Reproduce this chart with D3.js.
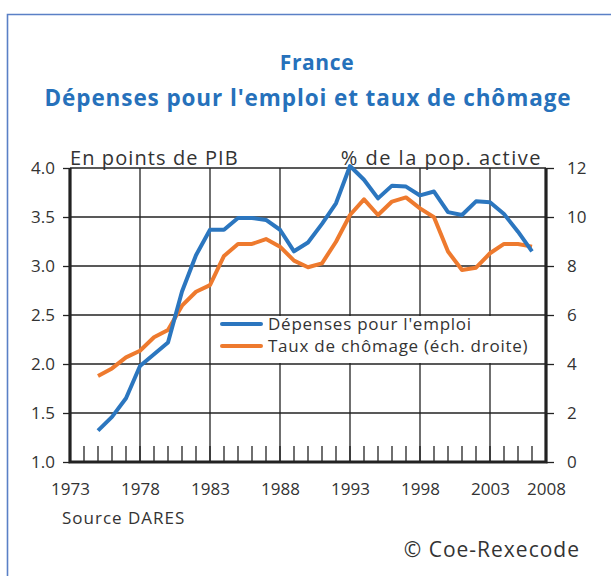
<!DOCTYPE html>
<html>
<head>
<meta charset="utf-8">
<script src="https://cdn.jsdelivr.net/npm/d3@7"></script>
<style>
  body { margin: 0; background: #fff; }
  svg { display: block; font-family: "Open Sans", Lato, sans-serif; }
</style>
</head>
<body>
<div id="chart"></div>
<script>
// data
const years = [1975, 1976, 1977, 1978, 1979, 1980, 1981, 1982, 1983, 1984, 1985, 1986, 1987, 1988, 1989, 1990,
    1991, 1992, 1993, 1994, 1995, 1996, 1997, 1998, 1999, 2000, 2001, 2002, 2003, 2004, 2005, 2006];
const depenses = [1.32, 1.46, 1.65, 1.98, 2.10, 2.22, 2.74, 3.11, 3.37, 3.37, 3.49, 3.49, 3.47, 3.37, 3.15, 3.24,
    3.43, 3.64, 4.02, 3.88, 3.69, 3.82, 3.81, 3.72, 3.76, 3.55, 3.52, 3.66, 3.65, 3.53, 3.35, 3.15];
const chomage = [3.51, 3.82, 4.27, 4.54, 5.09, 5.39, 6.38, 6.95, 7.22, 8.41, 8.90, 8.90, 9.10, 8.79, 8.22, 7.95,
    8.11, 8.99, 10.08, 10.72, 10.08, 10.63, 10.80, 10.35, 9.99, 8.59, 7.84, 7.93, 8.52, 8.90, 8.90, 8.79];
const leftTicks = [1.0, 1.5, 2.0, 2.5, 3.0, 3.5, 4.0];
const rightTicks = [0, 2, 4, 6, 8, 10, 12];
const xTicks = [1973, 1978, 1983, 1988, 1993, 1998, 2003, 2007];
const xTickLabels = ["1973", "1978", "1983", "1988", "1993", "1998", "2003", "2008"];
const seriesNames = ["Dépenses pour l'emploi", "Taux de chômage (éch. droite)"];

const W = 611, H = 576;
const blue = "#2b76bf", orange = "#ee7a2e", ink = "#222";

const svg = d3.select("#chart").append("svg")
    .attr("width", W)
    .attr("height", H);

// outer frame (left + top only)
svg.append("path")
    .attr("d", `M7.5,${H} V14.5 H${W}`)
    .attr("fill", "none")
    .attr("stroke", "#5a80c6")
    .attr("stroke-width", 1.6);

// titles
svg.append("text")
    .attr("x", 317).attr("y", 70)
    .attr("text-anchor", "middle")
    .attr("font-weight", "bold")
    .attr("font-size", 21)
    .attr("letter-spacing", 0.6)
    .attr("fill", "#2671bb")
    .text("France");

svg.append("text")
    .attr("x", 308).attr("y", 106)
    .attr("text-anchor", "middle")
    .attr("font-weight", "bold")
    .attr("font-size", 22.5)
    .attr("letter-spacing", 0.9)
    .attr("fill", "#2671bb")
    .text("Dépenses pour l'emploi et taux de chômage");

// scales
const x = d3.scaleLinear().domain([1973, 2007]).range([70, 546]);
const yL = d3.scaleLinear().domain([1, 4]).range([462, 168]);
const yR = d3.scaleLinear().domain([0, 12]).range([462, 168]);

// grid
const grid = svg.append("g").attr("stroke", ink).attr("stroke-width", 1.3);
grid.selectAll(".hg")
    .data(leftTicks.slice(1))
    .enter().append("line")
    .attr("class", "hg")
    .attr("x1", x(1973)).attr("x2", x(2007))
    .attr("y1", d => yL(d)).attr("y2", d => yL(d));
grid.selectAll(".vg")
    .data(xTicks.slice(1, -1))
    .enter().append("line")
    .attr("class", "vg")
    .attr("x1", d => x(d)).attr("x2", d => x(d))
    .attr("y1", yL(4)).attr("y2", yL(1));

// minor year ticks
grid.selectAll(".mt")
    .data(d3.range(1974, 2007))
    .enter().append("line")
    .attr("class", "mt")
    .attr("x1", d => x(d)).attr("x2", d => x(d))
    .attr("y1", yL(1)).attr("y2", yL(1) - 16);

// legend box (covers grid)
svg.append("rect")
    .attr("x", 217).attr("y", 316)
    .attr("width", 313).attr("height", 47)
    .attr("fill", "#fff");

// axes
const axL = svg.append("g").attr("transform", `translate(${x(1973)},0)`)
    .call(d3.axisLeft(yL).tickValues(leftTicks).tickFormat(d3.format(".1f")).tickSize(7).tickPadding(8));
const axR = svg.append("g").attr("transform", `translate(${x(2007)},0)`)
    .call(d3.axisRight(yR).tickValues(rightTicks).tickSize(8).tickPadding(13));
const axB = svg.append("g").attr("transform", `translate(0,${yL(1)})`)
    .call(d3.axisBottom(x).tickValues(xTicks).tickFormat((d, i) => xTickLabels[i]).tickSize(0).tickPadding(21));

[axL, axR, axB].forEach(a => {
    a.select(".domain").remove();
    a.selectAll("line").attr("stroke", ink).attr("stroke-width", 1.3);
    a.selectAll("text").attr("font-size", 17).attr("fill", "#333").attr("font-family", "'Open Sans', sans-serif");
});

// thick axis frame
svg.append("path")
    .attr("d", `M${x(1973)},${yL(4)} V${yL(1)} H${x(2007)} V${yL(4)}`)
    .attr("fill", "none")
    .attr("stroke", ink)
    .attr("stroke-width", 3.2);

// axis titles
svg.append("text")
    .attr("x", 70).attr("y", 165)
    .attr("font-size", 20).attr("fill", "#333")
    .attr("letter-spacing", 1.1)
    .text("En points de PIB");
svg.append("text")
    .attr("x", 542).attr("y", 165)
    .attr("text-anchor", "end")
    .attr("font-size", 20).attr("fill", "#333")
    .attr("letter-spacing", 1.5)
    .text("% de la pop. active");

// lines
const lineL = d3.line().x((d, i) => x(years[i])).y(d => yL(d));
const lineR = d3.line().x((d, i) => x(years[i])).y(d => yR(d));

svg.append("path")
    .datum(chomage)
    .attr("d", lineR)
    .attr("fill", "none")
    .attr("stroke", orange)
    .attr("stroke-width", 4)
    .attr("stroke-linejoin", "round");

svg.append("path")
    .datum(depenses)
    .attr("d", lineL)
    .attr("fill", "none")
    .attr("stroke", blue)
    .attr("stroke-width", 4)
    .attr("stroke-linejoin", "round");

// legend
const legend = svg.append("g");
[blue, orange].forEach((c, i) => {
    legend.append("line")
        .attr("x1", 222).attr("x2", 261)
        .attr("y1", 324 + i * 22).attr("y2", 324 + i * 22)
        .attr("stroke", c)
        .attr("stroke-width", 4)
        .attr("stroke-linecap", "round");
    legend.append("text")
        .attr("x", 268).attr("y", 330 + i * 22)
        .attr("font-size", 17).attr("fill", "#333")
        .attr("letter-spacing", 0.75)
        .text(seriesNames[i]);
});

// footer
svg.append("text")
    .attr("x", 62).attr("y", 524)
    .attr("font-size", 17).attr("fill", "#333")
    .attr("letter-spacing", 1)
    .text("Source DARES");
svg.append("text")
    .attr("x", 580).attr("y", 557)
    .attr("text-anchor", "end")
    .attr("font-size", 21).attr("fill", "#333")
    .attr("letter-spacing", 1)
    .text("© Coe-Rexecode");
</script>
</body>
</html>
